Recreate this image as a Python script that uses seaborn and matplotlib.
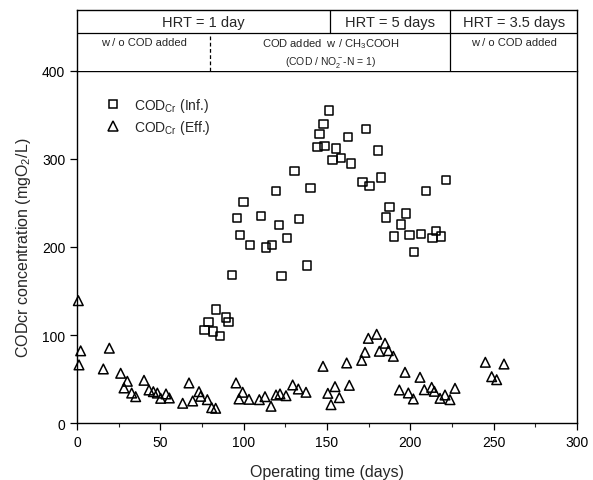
import matplotlib
matplotlib.use("Agg")
import matplotlib.pyplot as plt
import seaborn as sns
import pandas as pd
from matplotlib.lines import Line2D
from matplotlib.ticker import MultipleLocator

# ---- data ----
inf_days = [76.4, 78.8, 81.4, 83.4, 85.8, 89.4, 90.8, 92.8, 96.0, 97.8, 99.8, 103.8,
            110.2, 113.2, 117.0, 119.4, 121.2, 122.6, 126.0, 130.4, 133.0, 137.8, 140.2,
            144.2, 145.4, 147.8, 148.4, 151.2, 153.2, 155.4, 158.4, 162.4, 164.2, 171.2,
            173.4, 175.4, 180.4, 182.4, 185.2, 187.4, 190.2, 194.4, 197.4, 199.4, 202.2,
            206.2, 209.2, 213.2, 215.2, 218.2, 221.4]
inf_cod = [105.7, 115.0, 104.0, 128.8, 98.5, 119.7, 115.0, 168.0, 232.6, 213.6, 250.8, 202.6,
           235.6, 199.6, 202.6, 263.3, 225.0, 167.4, 209.9, 286.7, 231.8, 178.8, 267.0,
           314.0, 328.4, 339.8, 315.0, 355.0, 298.5, 312.0, 301.5, 325.0, 294.7, 273.9,
           334.4, 269.0, 309.5, 278.8, 233.7, 245.8, 212.1, 225.4, 237.9, 213.3, 194.0,
           214.8, 264.0, 209.9, 218.5, 211.8, 275.8]

eff_days = [0.8, 2.2, 1.2, 15.8, 19.4, 26.2, 30.2, 28.2, 32.8, 35.2, 40.2, 43.2, 45.8,
            48.2, 50.2, 53.4, 55.4, 63.4, 67.2, 69.4, 73.2, 74.2, 78.2, 80.8, 83.2,
            95.4, 97.2, 99.4, 103.2, 109.4, 112.8, 116.4, 119.4, 121.8, 125.4, 129.4,
            132.8, 137.4, 147.6, 150.5, 152.4, 154.8, 157.4, 161.8, 163.4, 170.8, 172.8,
            174.8, 179.8, 181.4, 184.8, 186.8, 189.8, 193.4, 196.8, 198.8, 201.8, 205.8,
            208.4, 212.8, 214.4, 217.8, 220.8, 223.8, 226.8, 245.0, 248.8, 251.8, 256.2]
eff_cod = [139.0, 82.0, 66.0, 61.4, 85.0, 56.5, 47.4, 39.8, 34.0, 29.9, 48.5, 37.5, 35.6,
           34.0, 28.0, 33.0, 28.4, 22.4, 45.5, 25.0, 35.6, 30.3, 26.5, 17.4, 16.7,
           45.5, 27.3, 34.9, 26.9, 26.5, 29.9, 19.0, 31.8, 33.0, 31.0, 43.2,
           38.6, 34.9, 64.4, 33.7, 20.8, 41.3, 28.8, 68.2, 42.8, 71.2, 80.3,
           96.2, 100.8, 81.5, 90.6, 82.2, 75.8, 37.5, 57.6, 34.1, 27.3, 51.9,
           37.8, 40.5, 36.0, 28.0, 31.8, 26.5, 39.4, 69.0, 52.6, 49.2, 67.0]

x_ticks = [0, 50, 100, 150, 200, 250, 300]
y_ticks = [0, 100, 200, 300, 400]
hrt_labels = ["HRT = 1 day", "HRT = 5 days", "HRT = 3.5 days"]
hrt_bounds = [0, 152, 224, 300]
cod_labels = ["w / o COD added", "COD added  w / CH$_3$COOH", "w / o COD added"]
cod_bounds = [0, 80, 224, 300]

df_inf = pd.DataFrame({"day": inf_days, "cod": inf_cod})
df_eff = pd.DataFrame({"day": eff_days, "cod": eff_cod})

# ---- style ----
sns.set_style("ticks")
plt.rcParams["font.family"] = ["Liberation Sans", "DejaVu Sans"]
plt.rcParams["mathtext.fontset"] = "custom"
plt.rcParams["mathtext.rm"] = "Liberation Sans"
plt.rcParams["mathtext.it"] = "Liberation Sans"

fig = plt.figure(figsize=(5.93, 4.81), dpi=100)
ax = fig.add_axes([77/593, 1 - 424/481, 500/593, 352/481])

sns.scatterplot(data=df_inf, x="day", y="cod", ax=ax, marker="s", s=36,
                facecolor="none", edgecolor="black", linewidth=1.1, legend=False,
                clip_on=False)
sns.scatterplot(data=df_eff, x="day", y="cod", ax=ax, marker="^", s=48,
                facecolor="none", edgecolor="black", linewidth=1.1, legend=False,
                clip_on=False)

ax.set_xlim(0, 300)
ax.set_ylim(0, 400)
ax.set_xticks(x_ticks)
ax.set_yticks(y_ticks)
ax.xaxis.set_minor_locator(MultipleLocator(25))
ax.tick_params(axis="both", which="major", direction="out", length=5, width=0.9,
               labelsize=10, colors="black")
ax.tick_params(axis="x", which="minor", direction="out", length=3, width=0.8)
for sp in ax.spines.values():
    sp.set_visible(True)
    sp.set_color("black")
    sp.set_linewidth(1.0)
ax.spines["top"].set_linestyle((0, (1, 1)))
ax.set_xlabel("Operating time (days)", fontsize=11.5, labelpad=11)
ax.set_ylabel("CODcr concentration (mgO$_2$/L)", fontsize=11.5, labelpad=6)

handles = [Line2D([], [], marker="s", ls="none", mfc="none", mec="black", ms=6, mew=1.1),
           Line2D([], [], marker="^", ls="none", mfc="none", mec="black", ms=7, mew=1.1)]
ax.legend(handles, ["COD$_{Cr}$ (Inf.)", "COD$_{Cr}$ (Eff.)"], loc="upper left",
          bbox_to_anchor=(0.03, 0.965), frameon=False, fontsize=10,
          handletextpad=0.9, labelspacing=0.3, handlelength=1.2)

# ---- header ----
hax = fig.add_axes([77/593, 1 - 72/481, 500/593, 61/481])
hax.set_xlim(0, 300)
hax.set_ylim(0, 1)
hax.set_xticks([])
hax.set_yticks([])
for sp in hax.spines.values():
    sp.set_color("black")
    sp.set_linewidth(1.0)
hax.spines["bottom"].set_visible(False)
mid = 38/61
hax.axhline(mid, color="black", lw=0.9)
hax.plot([hrt_bounds[1]] * 2, [mid, 1], color="black", lw=0.9)
hax.plot([hrt_bounds[2]] * 2, [0, 1], color="black", lw=0.9)
hax.plot([cod_bounds[1]] * 2, [0, mid], color="black", lw=0.9, ls=(0, (3, 2)))
for i, lab in enumerate(hrt_labels):
    xc = (hrt_bounds[i] + hrt_bounds[i + 1]) / 2
    hax.text(xc, (1 + mid) / 2, lab, ha="center", va="center", fontsize=10.5)
for i, lab in enumerate(cod_labels):
    xc = (cod_bounds[i] + cod_bounds[i + 1]) / 2
    hax.text(xc, mid - 0.06, lab, ha="center", va="top", fontsize=8)
hax.text((cod_bounds[1] + cod_bounds[2]) / 2, 0.03, "(COD / NO$_2^-$-N = 1)",
         ha="center", va="bottom", fontsize=7.5)

fig.savefig("out.png", dpi=100)
